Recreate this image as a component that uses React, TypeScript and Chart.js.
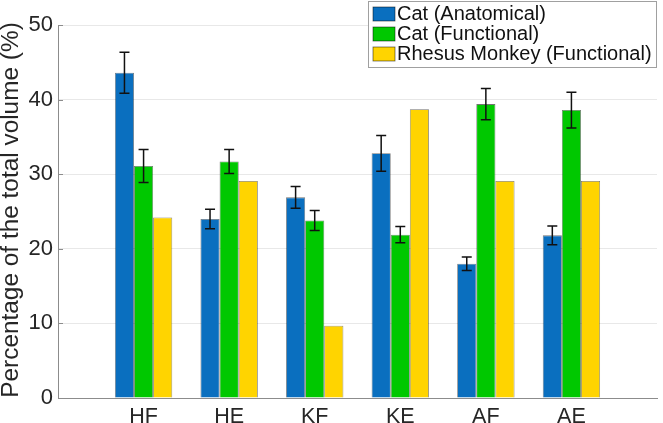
import React, { useEffect, useRef } from 'react';
import { Chart, registerables } from 'chart.js';

Chart.register(...registerables);

const categories = ['HF', 'HE', 'KF', 'KE', 'AF', 'AE'];
const seriesNames = ['Cat (Anatomical)', 'Cat (Functional)', 'Rhesus Monkey (Functional)'];
const catAnatomical = [43.6, 24.0, 26.9, 32.8, 18.0, 21.8];
const catAnatomicalErr = [2.75, 1.3, 1.45, 2.4, 0.9, 1.25];
const catFunctional = [31.1, 31.7, 23.8, 21.9, 39.4, 38.6];
const catFunctionalErr = [2.2, 1.6, 1.35, 1.1, 2.1, 2.4];
const monkeyFunctional = [24.2, 29.1, 9.7, 38.7, 29.1, 29.1];
const yTicks = [0, 10, 20, 30, 40, 50];
const colors = ['#0a6fbf', '#00c800', '#ffd400'];
const yTitle = 'Percentage of the total volume (%)';

const FONT = '"Liberation Sans", Arial, Helvetica, sans-serif';

const pad = (arr: (number | null)[]) => [null, ...arr, null];

const errorBarPlugin = {
  id: 'errorBars',
  afterDatasetsDraw(chart: any) {
    const ctx = chart.ctx;
    const y = chart.scales.y;
    chart.data.datasets.forEach((ds: any, i: number) => {
      const errs = ds.errors;
      if (!errs) return;
      const meta = chart.getDatasetMeta(i);
      meta.data.forEach((bar: any, j: number) => {
        const e = errs[j];
        const v = ds.data[j];
        if (e == null || v == null) return;
        const x = bar.x;
        const top = y.getPixelForValue(v + e);
        const bot = y.getPixelForValue(v - e);
        ctx.save();
        ctx.strokeStyle = '#111';
        ctx.lineWidth = 1.5;
        ctx.beginPath();
        ctx.moveTo(x, top);
        ctx.lineTo(x, bot);
        ctx.moveTo(x - 5, top);
        ctx.lineTo(x + 5, top);
        ctx.moveTo(x - 5, bot);
        ctx.lineTo(x + 5, bot);
        ctx.stroke();
        ctx.restore();
      });
    });
  },
};

const decorPlugin = {
  id: 'decor',
  afterDraw(chart: any) {
    const ctx = chart.ctx;
    const area = chart.chartArea;
    const y = chart.scales.y;
    // inner y tick marks
    ctx.save();
    ctx.strokeStyle = '#8c8c8c';
    ctx.lineWidth = 1;
    ctx.beginPath();
    yTicks.forEach((v) => {
      const py = Math.round(y.getPixelForValue(v)) + 0.5;
      ctx.moveTo(area.left, py);
      ctx.lineTo(area.left + 5, py);
    });
    ctx.stroke();
    ctx.restore();

    // y title
    ctx.save();
    ctx.fillStyle = '#262626';
    ctx.font = `24.4px ${FONT}`;
    ctx.translate(11, 210);
    ctx.rotate(-Math.PI / 2);
    ctx.textAlign = 'center';
    ctx.textBaseline = 'middle';
    ctx.fillText(yTitle, 0, 0);
    ctx.restore();

    // legend
    ctx.save();
    ctx.fillStyle = '#fff';
    ctx.fillRect(368, 1, 288, 66);
    ctx.strokeStyle = '#a0a0a0';
    ctx.lineWidth = 1;
    ctx.strokeRect(368.5, 1.5, 288, 66);
    chart.data.datasets.forEach((ds: any, i: number) => {
      const rowY = 7 + i * 20;
      ctx.fillStyle = ds.backgroundColor;
      ctx.fillRect(373, rowY, 22, 14);
      ctx.strokeStyle = 'rgba(0,0,0,0.6)';
      ctx.lineWidth = 0.8;
      ctx.strokeRect(373, rowY, 22, 14);
      ctx.fillStyle = '#111';
      ctx.font = `20px ${FONT}`;
      ctx.textAlign = 'left';
      ctx.textBaseline = 'middle';
      ctx.fillText(ds.label, 397, rowY + 7.5);
    });
    ctx.restore();
  },
};

export default function App() {
  const ref = useRef<HTMLCanvasElement>(null);
  useEffect(() => {
    if (!ref.current) return;
    const chart = new Chart(ref.current, {
      type: 'bar',
      data: {
        labels: ['', ...categories, ''],
        datasets: [
          { label: seriesNames[0], data: pad(catAnatomical), errors: pad(catAnatomicalErr), backgroundColor: colors[0] },
          { label: seriesNames[1], data: pad(catFunctional), errors: pad(catFunctionalErr), backgroundColor: colors[1] },
          { label: seriesNames[2], data: pad(monkeyFunctional), backgroundColor: colors[2] },
        ].map((d) => ({
          ...d,
          borderColor: 'rgba(0,0,0,0.55)',
          borderWidth: 0.8,
          categoryPercentage: 0.67,
          barPercentage: 1.0,
        })) as any,
      },
      options: {
        animation: false,
        responsive: true,
        maintainAspectRatio: false,
        layout: { padding: { top: 25, right: 3, left: 0, bottom: 0 } },
        plugins: { legend: { display: false }, tooltip: { enabled: false } },
        scales: {
          x: {
            type: 'category',
            offset: false,
            grid: { display: false, drawTicks: false },
            border: { display: true, color: '#8c8c8c', width: 1 },
            ticks: { font: { size: 21.5, family: FONT }, color: '#262626', padding: 6, maxRotation: 0, autoSkip: false },
            afterFit: (s: any) => { s.height = 25; },
          },
          y: {
            min: 0,
            max: 50,
            afterBuildTicks: (s: any) => { s.ticks = yTicks.map((v) => ({ value: v })); },
            grid: { color: '#e8e8e8', drawTicks: false },
            border: { display: true, color: '#8c8c8c', width: 1 },
            ticks: { font: { size: 22, family: FONT }, color: '#262626', padding: 5 },
            afterFit: (s: any) => { s.width = 58; },
          },
        },
      },
      plugins: [errorBarPlugin, decorPlugin],
    } as any);
    return () => chart.destroy();
  }, []);
  return (
    <div style={{ position: 'absolute', left: 0, top: 0, width: 663, height: 423, background: '#fff' }}>
      <canvas ref={ref} />
    </div>
  );
}
